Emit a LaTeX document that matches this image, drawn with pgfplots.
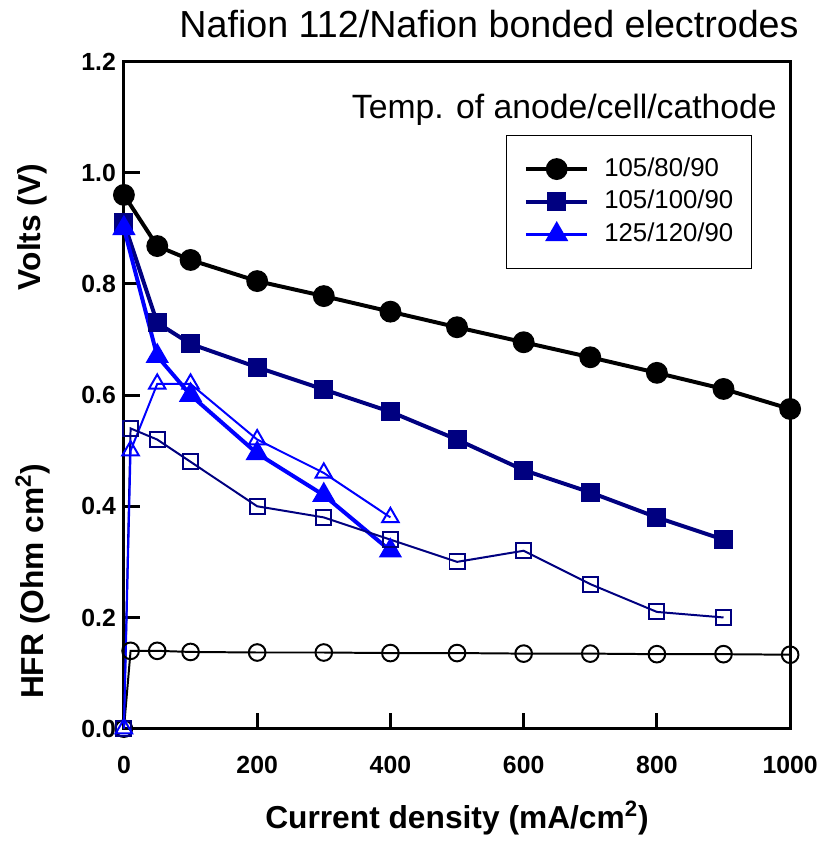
\documentclass[border=0pt]{standalone}
\usepackage{fontspec}
\setmainfont{Liberation Sans}
\usepackage{pgfplots}
\pgfplotsset{compat=1.18}
\definecolor{navy}{RGB}{0,0,128}
\definecolor{pblue}{RGB}{0,0,255}

\begin{document}
\begin{tikzpicture}
\begin{axis}[
    scale only axis,
    width=336pt, height=336.5pt,
    line width=1.5pt,
    xmin=0, xmax=1000, ymin=0, ymax=1.2,
    xtick={0,200,400,600,800,1000},
    ytick={0,0.2,0.4,0.6,0.8,1.0,1.2},
    tick align=inside, major tick length=8pt,
    xtick pos=bottom, ytick pos=left,
    tick style={line width=1.5pt, black},
    ticklabel style={font=\fontsize{12.5}{14}\selectfont\bfseries},
    /pgf/number format/assume math mode=true,
    yticklabel style={/pgf/number format/.cd, fixed, fixed zerofill, precision=1},
    xticklabel style={yshift=-10pt, inner xsep=1pt, /pgf/number format/.cd, 1000 sep={}},
    xlabel={Current density (mA/cm\textsuperscript{2})},
    xlabel style={font=\fontsize{16}{18}\selectfont\bfseries,
        at={(axis description cs:0.5,0)}, anchor=base, yshift=-50.5pt},
    clip=false,
    legend style={at={(rel axis cs:0.573,0.890)}, anchor=north west,
        draw=black, line width=0.5pt, fill=white,
        font=\fontsize{13}{15}\selectfont,
        inner xsep=9pt, inner ysep=11pt, row sep=4.5pt,
        nodes={inner sep=0pt, text height=9.5pt, text depth=2.5pt},
        /tikz/every odd column/.append style={column sep=7.5pt}},
    legend cell align=left,
    legend image code/.code={\draw[mark repeat=2,mark phase=2]
        plot coordinates {(0pt,0pt) (15.5pt,0pt) (31pt,0pt)};},
]
% polarization curves
\addplot[black, line width=2pt, mark=*, mark size=4.5pt, mark options={solid, fill=black}] coordinates {
    (0,0.96) (50,0.868) (100,0.843) (200,0.805) (300,0.778) (400,0.750)
    (500,0.722) (600,0.695) (700,0.668) (800,0.640) (900,0.611) (1000,0.575)
};
\addlegendentry{105/80/90}
\addplot[navy, line width=2pt, mark=square*, mark size=3.8pt, mark options={solid, fill=navy}] coordinates {
    (0,0.91) (50,0.73) (100,0.692) (200,0.65) (300,0.61) (400,0.57)
    (500,0.52) (600,0.465) (700,0.425) (800,0.38) (900,0.34)
};
\addlegendentry{105/100/90}
\addplot[pblue, line width=2pt, mark=triangle*, mark size=4.8pt, mark options={solid, fill=pblue}] coordinates {
    (0,0.90) (50,0.67) (100,0.60) (200,0.495) (300,0.42) (400,0.32)
};
\addlegendentry{125/120/90}
% HFR
\addplot[black, line width=1pt, mark=o, mark size=4.2pt, mark options={solid, fill=white}, forget plot] coordinates {
    (0,0) (10,0.14) (50,0.14) (100,0.138) (200,0.137) (300,0.137) (400,0.136)
    (500,0.136) (600,0.135) (700,0.135) (800,0.134) (900,0.134) (1000,0.133)
};
\addplot[navy, line width=1pt, mark=square, mark size=3.8pt, mark options={solid, fill=white}, forget plot] coordinates {
    (0,0) (10,0.54) (50,0.52) (100,0.48) (200,0.40) (300,0.38) (400,0.34)
    (500,0.30) (600,0.32) (700,0.26) (800,0.21) (900,0.20)
};
\addplot[pblue, line width=1pt, mark=triangle, mark size=4.8pt, mark options={solid, fill=white}, forget plot] coordinates {
    (0,0) (10,0.50) (50,0.62) (100,0.62) (200,0.52) (300,0.46) (400,0.38)
};
% labels
\node[rotate=90, font=\fontsize{16}{18}\selectfont\bfseries] at ([xshift=-46pt]rel axis cs:0,0.752) {Volts (V)};
\node[rotate=90, font=\fontsize{16}{18}\selectfont\bfseries] at ([xshift=-46pt]rel axis cs:0,0.221) {HFR (Ohm cm\textsuperscript{2})};
\node[anchor=base east, inner sep=0pt, font=\fontsize{19}{21}\selectfont] at ([yshift=12pt]rel axis cs:1.015,1) {Nafion 112/Nafion bonded electrodes};
\node[anchor=base east, inner sep=0pt, font=\fontsize{17}{19}\selectfont] at (rel axis cs:0.982,0.914) {Temp. of anode/cell/cathode};
\path (rel axis cs:0,0) ++(-62.5pt,-55pt) rectangle ++(414pt,422.5pt);
\end{axis}
\end{tikzpicture}
\end{document}
